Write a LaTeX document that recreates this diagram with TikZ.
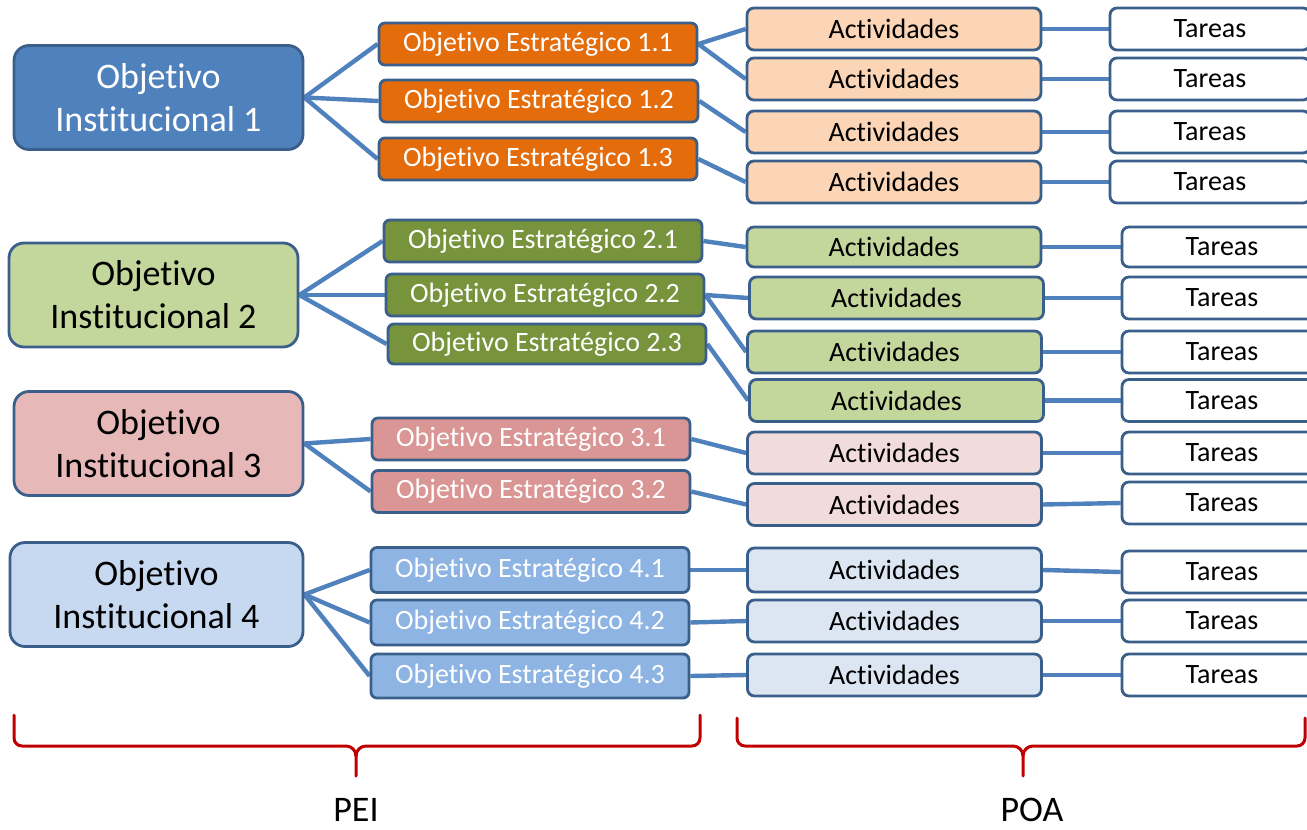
\documentclass[tikz,border=0pt]{standalone}
\usepackage{fontspec}
\setmainfont{Carlito}[Ligatures={NoCommon}]
\usetikzlibrary{backgrounds}
\definecolor{bd}{HTML}{3A5F8B}
\definecolor{ln}{HTML}{4F81BD}
\definecolor{oiA}{HTML}{4F81BD}
\definecolor{oeA}{HTML}{E46C0A}
\definecolor{acA}{HTML}{FBD5B5}
\definecolor{oiB}{HTML}{C3D69B}
\definecolor{oeB}{HTML}{77933C}
\definecolor{acB}{HTML}{C3D69B}
\definecolor{oiC}{HTML}{E6B9B8}
\definecolor{oeC}{HTML}{D99694}
\definecolor{acC}{HTML}{F2DCDB}
\definecolor{oiD}{HTML}{C6D9F1}
\definecolor{oeD}{HTML}{8EB4E3}
\definecolor{acD}{HTML}{DCE6F2}
\definecolor{brc}{HTML}{C00000}
\tikzset{
  oibox/.style={draw=bd, line width=2.8pt, rounded corners=15pt, minimum width=289pt, minimum height=104pt, align=center, inner sep=0pt, font=\fontsize{36}{43}\selectfont},
  oebox/.style={draw=bd, line width=2.8pt, rounded corners=6pt, minimum width=318pt, minimum height=42pt, inner sep=0pt, text=white, font=\fontsize{28}{32}\selectfont},
  acbox/.style={draw=bd, line width=2.8pt, rounded corners=7pt, minimum width=294pt, minimum height=42pt, inner sep=0pt, font=\fontsize{28}{32}\selectfont},
  tabox/.style={draw=bd, fill=white, line width=2.8pt, rounded corners=7pt, minimum width=200pt, minimum height=42pt, inner sep=0pt, font=\fontsize{28}{32}\selectfont},
  conn/.style={draw=ln, line width=4.4pt},
  bracestyle/.style={draw=brc, line width=3pt, line cap=round},
  lbl/.style={font=\fontsize{36}{40}\selectfont, inner sep=0pt, anchor=base}
}
\begin{document}
\begin{tikzpicture}[x=1pt,y=-1pt]
\path[use as bounding box] (0,0) rectangle (1307,830);
% Institutional objectives
\node[oibox, fill=oiA, text=white] (i1) at (158.5,97.5) {Objetivo\\Institucional 1};
\node[oibox, fill=oiB] (i2) at (153.5,295) {Objetivo\\Institucional 2};
\node[oibox, fill=oiC] (i3) at (158.5,443.5) {Objetivo\\Institucional 3};
\node[oibox, fill=oiD, minimum width=293pt] (i4) at (156.5,594.5) {Objetivo\\Institucional 4};
% Strategic objectives
\node[oebox, fill=oeA] (e11) at (538,44) {Objetivo Estratégico 1.1};
\node[oebox, fill=oeA] (e12) at (539,101) {Objetivo Estratégico 1.2};
\node[oebox, fill=oeA] (e13) at (538,159) {Objetivo Estratégico 1.3};
\node[oebox, fill=oeB] (e21) at (543,241) {Objetivo Estratégico 2.1};
\node[oebox, fill=oeB] (e22) at (545,295) {Objetivo Estratégico 2.2};
\node[oebox, fill=oeB, minimum height=40pt] (e23) at (547,344) {Objetivo Estratégico 2.3};
\node[oebox, fill=oeC] (e31) at (531,439) {Objetivo Estratégico 3.1};
\node[oebox, fill=oeC] (e32) at (531,491.5) {Objetivo Estratégico 3.2};
\node[oebox, fill=oeD, minimum height=45pt] (e41) at (530,570) {Objetivo Estratégico 4.1};
\node[oebox, fill=oeD, minimum height=45pt] (e42) at (530,622.5) {Objetivo Estratégico 4.2};
\node[oebox, fill=oeD, minimum height=44pt] (e43) at (530,676) {Objetivo Estratégico 4.3};
% Activities
\node[acbox, fill=acA] (a1) at (894,29) {Actividades};
\node[acbox, fill=acA] (a2) at (894,79) {Actividades};
\node[acbox, fill=acA] (a3) at (894,132) {Actividades};
\node[acbox, fill=acA] (a4) at (894,182) {Actividades};
\node[acbox, fill=acB, minimum height=40pt] (a5) at (894,247) {Actividades};
\node[acbox, fill=acB] (a6) at (896.5,298) {Actividades};
\node[acbox, fill=acB] (a7) at (894.5,352) {Actividades};
\node[acbox, fill=acB] (a8) at (896.5,400.5) {Actividades};
\node[acbox, fill=acC] (a9) at (894.5,453) {Actividades};
\node[acbox, fill=acC] (a10) at (894.5,504.5) {Actividades};
\node[acbox, fill=acD, minimum height=44pt] (a11) at (894.5,570) {Actividades};
\node[acbox, fill=acD] (a12) at (894.5,621) {Actividades};
\node[acbox, fill=acD] (a13) at (894.5,675) {Actividades};
% Tasks
\node[tabox] (t1) at (1210,29) {Tareas};
\node[tabox] (t2) at (1210,79) {Tareas};
\node[tabox] (t3) at (1210,132) {Tareas};
\node[tabox] (t4) at (1210,182) {Tareas};
\node[tabox, minimum height=40pt] (t5) at (1222,247) {Tareas};
\node[tabox] (t6) at (1222,298) {Tareas};
\node[tabox] (t7) at (1222,352) {Tareas};
\node[tabox] (t8) at (1222,400.5) {Tareas};
\node[tabox] (t9) at (1222,453) {Tareas};
\node[tabox] (t10) at (1222,503) {Tareas};
\node[tabox] (t11) at (1222,572) {Tareas};
\node[tabox] (t12) at (1222,621) {Tareas};
\node[tabox] (t13) at (1222,675) {Tareas};
% Connectors
\begin{scope}[on background layer]
\fill[white] (0,0) rectangle (1307,830);
\foreach \a/\b in {i1/e11,i1/e12,i1/e13,i2/e21,i2/e22,i2/e23,i3/e31,i3/e32,i4/e41,i4/e42,i4/e43,
  e11/a1,e11/a2,e12/a3,e13/a4,e21/a5,e22/a6,e22/a7,e23/a8,e31/a9,e32/a10,e41/a11,e42/a12,e43/a13,
  a1/t1,a2/t2,a3/t3,a4/t4,a5/t5,a6/t6,a7/t7,a8/t8,a9/t9,a10/t10,a11/t11,a12/t12,a13/t13}
  \draw[conn] (\a.east) -- (\b.west);
\end{scope}
% Braces
\coordinate (p1) at (14,715);
\coordinate (p2) at (356,776);
\coordinate (p3) at (700,715);
\draw[bracestyle] (p1) -- (14,738) to[out=-90,in=180] (22,746) -- (346,746) to[out=0,in=90] (356,756) -- (p2);
\draw[bracestyle] (356,756) to[out=90,in=180] (366,746) -- (692,746) to[out=0,in=-90] (700,738) -- (p3);
\coordinate (q1) at (737,718);
\coordinate (q2) at (1023,776);
\coordinate (q3) at (1305,718);
\draw[bracestyle] (q1) -- (737,738) to[out=-90,in=180] (745,746) -- (1013,746) to[out=0,in=90] (1023,756) -- (q2);
\draw[bracestyle] (1023,756) to[out=90,in=180] (1033,746) -- (1297,746) to[out=0,in=-90] (1305,738) -- (q3);
\node[lbl] (pei) at (356,821) {PEI};
\node[lbl] (poa) at (1032,821) {POA};
\end{tikzpicture}
\end{document}
